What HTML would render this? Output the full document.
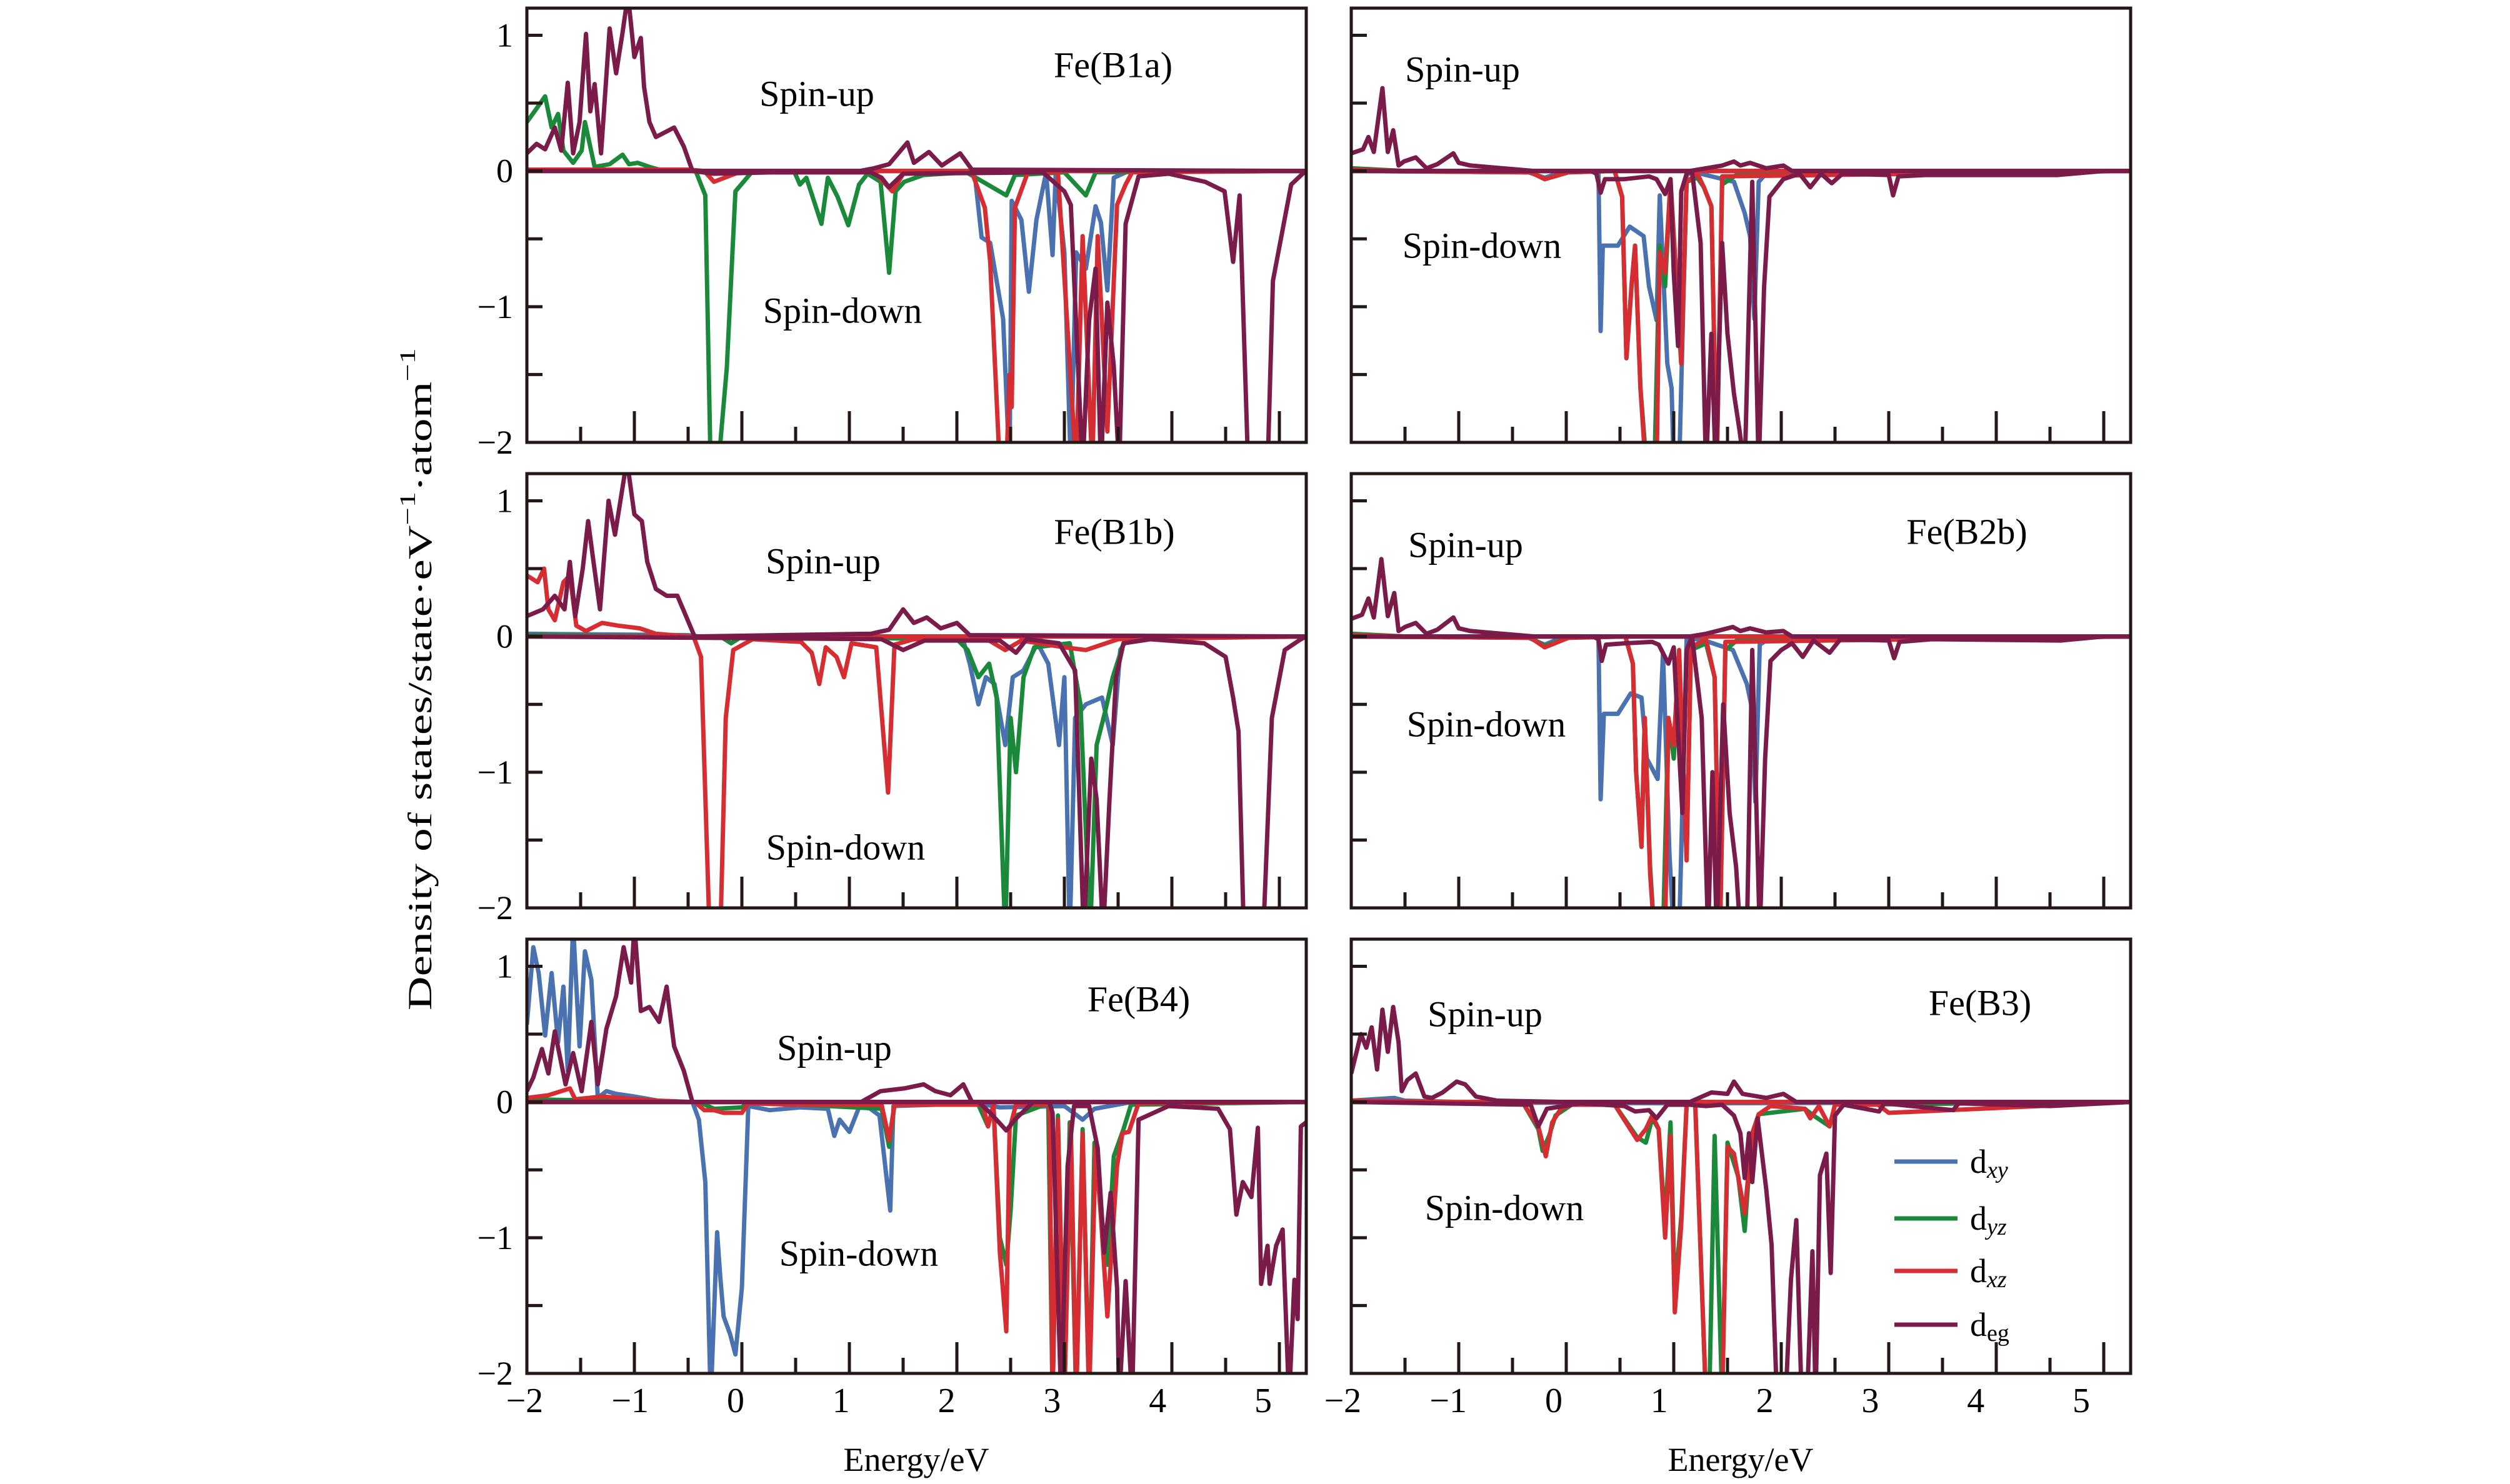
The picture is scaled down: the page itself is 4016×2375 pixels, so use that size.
<!DOCTYPE html>
<html><head><meta charset="utf-8"><style>
html,body{margin:0;padding:0;background:#fff;}
svg{display:block;font-family:"Liberation Serif",serif;}
</style></head><body>
<svg id="fig" width="4016" height="2375" viewBox="0 0 4016 2375" xmlns="http://www.w3.org/2000/svg">
<rect x="0" y="0" width="4016" height="2375" fill="#fff"/>
<g id="plots"></g>
<text transform="translate(672,1087) rotate(-90)" text-anchor="middle" dominant-baseline="central" font-size="54" textLength="1060" lengthAdjust="spacingAndGlyphs">Density of states/state·eV<tspan baseline-shift="super" font-size="36">−1</tspan>·atom<tspan baseline-shift="super" font-size="36">−1</tspan></text>
<text x="1466" y="2336" text-anchor="middle" dominant-baseline="central" font-size="54">Energy/eV</text>
<text x="2785" y="2336" text-anchor="middle" dominant-baseline="central" font-size="54">Energy/eV</text>
<g>
<line x1="3031" y1="1859" x2="3132" y2="1859" stroke="#4a72b0" stroke-width="7"/>
<text x="3152" y="1859" font-size="54" dominant-baseline="central">d<tspan font-style="italic" font-size="38" dy="14">xy</tspan></text>
<line x1="3031" y1="1950" x2="3132" y2="1950" stroke="#1a8a3a" stroke-width="7"/>
<text x="3152" y="1950" font-size="54" dominant-baseline="central">d<tspan font-style="italic" font-size="38" dy="14">yz</tspan></text>
<line x1="3031" y1="2034" x2="3132" y2="2034" stroke="#d62d33" stroke-width="7"/>
<text x="3152" y="2034" font-size="54" dominant-baseline="central">d<tspan font-style="italic" font-size="38" dy="14">xz</tspan></text>
<line x1="3031" y1="2120" x2="3132" y2="2120" stroke="#7b1b4a" stroke-width="7"/>
<text x="3152" y="2120" font-size="54" dominant-baseline="central">d<tspan font-size="38" dy="14">eg</tspan></text>
</g>
</svg>
<script>
const xTicks = [-2,-1.5,-1,-0.5,0,0.5,1,1.5,2,2.5,3,3.5,4,4.5,5];
const xTickLabels = ["−2","−1","0","1","2","3","4","5"];
const xLabelValues = [-2,-1,0,1,2,3,4,5];
const yTicks = [-2,-1.5,-1,-0.5,0,0.5,1];
const yTickLabels = ["−2","−1","0","1"];
const yLabelValues = [-2,-1,0,1];

// ---- Fe(B1a) ----
const b1a_dxy_up = [[-2,0.01],[-0.5,0.01],[-0.4,0],[5.25,0]];
const b1a_dxy_dn = [[-2,0],[2.1,0],[2.17,-0.05],[2.23,-0.49],[2.31,-0.53],[2.43,-1.09],[2.49,-2.2],[2.51,-0.22],[2.6,-0.36],[2.67,-0.89],[2.74,-0.36],[2.83,-0.01],[2.89,-0.62],[2.92,-0.01],[3.0,-0.6],[3.06,-2.2],[3.11,-0.6],[3.2,-0.72],[3.29,-0.26],[3.34,-0.38],[3.4,-0.88],[3.46,-0.05],[3.6,0],[5.25,0]];
const b1a_dyz_up = [[-2,0.36],[-1.91,0.46],[-1.83,0.55],[-1.77,0.32],[-1.71,0.42],[-1.66,0.15],[-1.57,0.06],[-1.49,0.15],[-1.46,0.36],[-1.37,0.03],[-1.23,0.05],[-1.11,0.12],[-1.05,0.05],[-0.97,0.06],[-0.86,0.03],[-0.77,0.01],[-0.43,0],[5.25,0]];
const b1a_dyz_dn = [[-2,0],[-0.43,0],[-0.34,-0.18],[-0.29,-2.2],[-0.2,-2.0],[-0.14,-1.45],[-0.06,-0.15],[0.09,-0.01],[0.49,-0.01],[0.54,-0.1],[0.6,-0.05],[0.74,-0.39],[0.8,-0.05],[0.89,-0.19],[0.99,-0.4],[1.09,-0.1],[1.17,-0.02],[1.29,-0.08],[1.37,-0.75],[1.43,-0.15],[1.51,-0.08],[1.69,-0.03],[2.09,-0.01],[2.2,-0.06],[2.46,-0.18],[2.54,-0.03],[3.0,-0.01],[3.2,-0.18],[3.29,-0.01],[5.25,0]];
const b1a_dxz_up = [[-2,0.01],[-0.5,0.01],[-0.35,0],[5.25,0]];
const b1a_dxz_dn = [[-2,0],[-0.35,0],[-0.26,-0.08],[-0.03,-0.01],[1.23,-0.01],[1.4,-0.15],[1.51,-0.01],[2.14,-0.01],[2.26,-0.27],[2.31,-0.67],[2.4,-2.2],[2.46,-2.2],[2.49,-1.5],[2.51,-1.74],[2.54,-0.27],[2.66,-0.01],[2.94,-0.01],[3.11,-2.2],[3.17,-0.48],[3.26,-2.2],[3.31,-0.48],[3.4,-1.92],[3.49,-0.25],[3.57,-0.1],[3.63,-0.01],[5.25,0]];
const b1a_deg_up = [[-2,0.13],[-1.91,0.2],[-1.83,0.16],[-1.74,0.32],[-1.68,0.15],[-1.62,0.65],[-1.57,0.13],[-1.51,0.36],[-1.45,1.01],[-1.41,0.44],[-1.37,0.64],[-1.31,0.13],[-1.23,1.05],[-1.17,0.72],[-1.11,1.02],[-1.06,1.3],[-1.0,0.84],[-0.94,0.98],[-0.91,0.62],[-0.86,0.36],[-0.8,0.25],[-0.63,0.32],[-0.54,0.18],[-0.46,0],[1.1,0],[1.23,0.02],[1.37,0.05],[1.54,0.21],[1.6,0.06],[1.74,0.14],[1.86,0.04],[2.03,0.13],[2.14,0.01],[5.25,0]];
const b1a_deg_dn = [[-2,0],[-0.46,0],[-0.26,-0.02],[0.3,-0.01],[1.2,-0.01],[1.3,-0.05],[1.37,-0.12],[1.5,-0.02],[2.8,-0.01],[3.0,-0.15],[3.06,-0.25],[3.17,-2.2],[3.23,-1.1],[3.29,-0.72],[3.34,-2.2],[3.4,-0.97],[3.46,-1.44],[3.51,-2.2],[3.57,-0.39],[3.69,-0.04],[3.97,-0.02],[4.31,-0.08],[4.49,-0.15],[4.57,-0.67],[4.63,-0.18],[4.71,-2.2],[4.89,-2.2],[4.94,-0.81],[5.11,-0.1],[5.23,-0.01],[5.25,0]];

// ---- Fe(B2a) (top right) ----
const b2a_dxy_up = [[-2,0.01],[-1.5,0],[5.25,0]];
const b2a_dxy_dn = [[-2,0],[-0.35,-0.01],[-0.2,-0.05],[-0.05,-0.01],[0.25,0],[0.3,-0.02],[0.32,-1.18],[0.34,-0.55],[0.48,-0.55],[0.59,-0.41],[0.72,-0.48],[0.77,-0.85],[0.84,-1.1],[0.87,-0.18],[0.94,-1.42],[0.98,-1.6],[1.0,-2.2],[1.05,-2.2],[1.12,-0.02],[1.25,-0.02],[1.56,-0.08],[1.66,-0.31],[1.71,-0.48],[1.75,-1.09],[1.79,-0.08],[1.87,-0.01],[5.25,0]];
const b2a_dyz_up = [[-2,0.02],[-1.5,0],[5.25,0]];
const b2a_dyz_dn = [[-2,0],[-0.33,-0.01],[-0.2,-0.06],[0.02,-0.01],[0.45,0],[0.52,-0.19],[0.56,-1.38],[0.61,-0.82],[0.64,-0.55],[0.69,-1.6],[0.72,-1.9],[0.75,-2.2],[0.82,-2.2],[0.87,-0.55],[0.92,-0.85],[0.97,-0.06],[1.07,-1.42],[1.12,-0.08],[1.22,-0.05],[1.28,-0.12],[1.35,-0.26],[1.4,-2.2],[1.45,-0.1],[1.6,-0.02],[5.25,0]];
const b2a_dxz_up = [[-2,0.01],[-1.5,0],[5.25,0]];
const b2a_dxz_dn = [[-2,0],[-0.33,-0.01],[-0.2,-0.06],[0.02,-0.01],[0.45,0],[0.52,-0.19],[0.56,-1.38],[0.61,-0.82],[0.64,-0.55],[0.69,-1.6],[0.74,-2.2],[0.84,-2.2],[0.87,-0.6],[0.92,-0.75],[0.97,-0.08],[1.07,-1.42],[1.12,-0.08],[1.22,-0.02],[1.28,-0.12],[1.35,-0.26],[1.4,-2.2],[1.45,-0.04],[5.25,0]];
const b2a_deg_up = [[-2,0.13],[-1.89,0.16],[-1.84,0.25],[-1.79,0.14],[-1.71,0.61],[-1.66,0.14],[-1.61,0.3],[-1.56,0.04],[-1.51,0.07],[-1.4,0.1],[-1.3,0.02],[-1.2,0.05],[-1.05,0.13],[-1.0,0.06],[-0.89,0.04],[-0.59,0.02],[-0.3,0],[1.15,0],[1.3,0.02],[1.45,0.04],[1.56,0.07],[1.62,0.04],[1.71,0.06],[1.86,0.02],[2.02,0.04],[2.1,0],[5.25,0]];
const b2a_deg_dn = [[-2,0],[0.23,0],[0.28,-0.02],[0.32,-0.16],[0.36,-0.06],[0.54,-0.06],[0.77,-0.04],[0.84,-0.06],[0.92,-0.17],[0.97,-0.06],[1.0,-0.75],[1.04,-1.29],[1.07,-0.15],[1.12,-0.02],[1.17,0],[1.25,-0.53],[1.3,-2.2],[1.35,-1.2],[1.39,-2.2],[1.45,-0.53],[1.5,-1.2],[1.56,-1.64],[1.61,-1.9],[1.66,-2.2],[1.73,-0.08],[1.79,-2.2],[1.84,-0.86],[1.89,-0.19],[2.02,-0.06],[2.17,-0.02],[2.27,-0.12],[2.37,-0.02],[2.47,-0.09],[2.57,-0.02],[3.0,-0.03],[3.04,-0.18],[3.09,-0.04],[3.34,-0.03],[4.57,-0.03],[5.0,0],[5.25,0]];

// ---- Fe(B1b) ----
const b1b_dxy_up = [[-2,0.02],[-0.5,0.01],[-0.4,0],[5.25,0]];
const b1b_dxy_dn = [[-2,0],[2.05,0],[2.12,-0.2],[2.2,-0.5],[2.27,-0.3],[2.35,-0.35],[2.45,-0.8],[2.52,-0.3],[2.62,-0.25],[2.75,-0.05],[2.85,-0.2],[2.95,-0.8],[3.0,-0.3],[3.05,-2.2],[3.1,-0.6],[3.2,-0.5],[3.35,-0.45],[3.45,-0.8],[3.52,-0.1],[3.6,0],[5.25,0]];
const b1b_dyz_up = [[-2,0.01],[-0.5,0],[5.25,0]];
const b1b_dyz_dn = [[-2,0],[-0.2,0],[-0.1,-0.05],[0,0],[2.0,-0.02],[2.1,-0.1],[2.2,-0.3],[2.3,-0.2],[2.37,-0.45],[2.45,-2.2],[2.5,-0.6],[2.55,-1.0],[2.62,-0.3],[2.72,-0.08],[3.05,-0.05],[3.15,-0.5],[3.24,-2.2],[3.3,-0.8],[3.38,-0.55],[3.45,-0.3],[3.55,-0.05],[3.65,0],[5.25,0]];
const b1b_dxz_up = [[-2,0.45],[-1.9,0.4],[-1.84,0.5],[-1.8,0.2],[-1.74,0.12],[-1.66,0.4],[-1.6,0.45],[-1.54,0.08],[-1.45,0.04],[-1.3,0.1],[-1.15,0.08],[-0.95,0.06],[-0.8,0.02],[-0.5,0],[5.25,0]];
const b1b_dxz_dn = [[-2,0],[-0.45,0],[-0.38,-0.15],[-0.3,-2.2],[-0.2,-2.2],[-0.15,-0.6],[-0.08,-0.1],[0.1,-0.02],[0.55,-0.04],[0.65,-0.12],[0.72,-0.35],[0.78,-0.08],[0.88,-0.15],[0.95,-0.3],[1.02,-0.05],[1.25,-0.08],[1.36,-1.15],[1.42,-0.06],[1.6,-0.02],[2.3,-0.03],[2.45,-0.1],[2.6,-0.03],[3.0,-0.08],[3.2,-0.1],[3.5,-0.02],[5.25,0]];
const b1b_deg_up = [[-2,0.15],[-1.85,0.2],[-1.74,0.3],[-1.65,0.2],[-1.6,0.55],[-1.55,0.15],[-1.48,0.5],[-1.43,0.85],[-1.38,0.55],[-1.32,0.2],[-1.24,1.0],[-1.18,0.75],[-1.12,1.05],[-1.07,1.3],[-1.0,0.9],[-0.93,0.85],[-0.88,0.55],[-0.8,0.35],[-0.7,0.3],[-0.6,0.3],[-0.52,0.15],[-0.44,0],[1.2,0.02],[1.37,0.05],[1.5,0.2],[1.6,0.1],[1.72,0.14],[1.85,0.06],[2.0,0.1],[2.12,0.01],[5.25,0]];
const b1b_deg_dn = [[-2,0],[1.3,-0.02],[1.5,-0.1],[1.7,-0.03],[2.4,-0.03],[2.55,-0.12],[2.65,-0.02],[2.95,-0.05],[3.1,-0.25],[3.18,-2.2],[3.25,-0.9],[3.3,-1.2],[3.36,-2.2],[3.42,-1.2],[3.48,-0.3],[3.55,-0.05],[3.8,-0.02],[4.3,-0.05],[4.5,-0.15],[4.57,-0.45],[4.62,-0.7],[4.67,-2.2],[4.85,-2.2],[4.93,-0.6],[5.05,-0.1],[5.2,-0.02],[5.25,0]];

// ---- Fe(B2b) ----
const b2b_dxy_up = [[-2,0.01],[-1.5,0],[5.25,0]];
const b2b_dxy_dn = [[-2,0],[-0.35,-0.01],[-0.2,-0.06],[-0.05,-0.01],[0.25,0],[0.3,-0.02],[0.32,-1.2],[0.35,-0.57],[0.48,-0.57],[0.6,-0.42],[0.7,-0.45],[0.75,-0.9],[0.85,-1.05],[0.9,-0.12],[0.96,-1.6],[1.0,-2.2],[1.05,-2.2],[1.12,-0.02],[1.25,-0.02],[1.55,-0.1],[1.68,-0.35],[1.72,-0.5],[1.76,-1.22],[1.8,-0.06],[1.9,-0.01],[5.25,0]];
const b2b_dyz_up = [[-2,0.02],[-1.5,0],[5.25,0]];
const b2b_dyz_dn = [[-2,0],[-0.33,-0.01],[-0.2,-0.07],[0.02,-0.01],[0.55,0],[0.62,-0.2],[0.65,-1.0],[0.7,-1.55],[0.73,-0.6],[0.78,-1.7],[0.82,-2.2],[0.9,-2.2],[0.95,-0.6],[1.0,-0.9],[1.05,-0.2],[1.12,-1.6],[1.16,-0.1],[1.3,-0.05],[1.38,-0.3],[1.43,-2.2],[1.48,-0.1],[1.6,-0.02],[5.25,0]];
const b2b_dxz_up = [[-2,0.01],[-1.5,0],[5.25,0]];
const b2b_dxz_dn = [[-2,0],[-0.33,-0.01],[-0.2,-0.08],[0.02,-0.01],[0.55,0],[0.62,-0.2],[0.65,-1.0],[0.7,-1.55],[0.73,-0.6],[0.78,-1.75],[0.82,-2.2],[0.92,-2.2],[0.95,-0.6],[1.0,-0.8],[1.05,-0.1],[1.12,-1.65],[1.16,-0.08],[1.3,-0.02],[1.38,-0.3],[1.43,-2.2],[1.48,-0.04],[5.25,0]];
const b2b_deg_up = [[-2,0.13],[-1.9,0.16],[-1.84,0.28],[-1.79,0.14],[-1.72,0.57],[-1.66,0.15],[-1.6,0.32],[-1.56,0.04],[-1.5,0.07],[-1.4,0.1],[-1.3,0.02],[-1.2,0.05],[-1.05,0.14],[-1.0,0.06],[-0.89,0.04],[-0.59,0.02],[-0.3,0],[1.15,0],[1.3,0.02],[1.45,0.05],[1.55,0.07],[1.62,0.04],[1.71,0.06],[1.86,0.03],[2.02,0.04],[2.1,0],[5.25,0]];
const b2b_deg_dn = [[-2,0],[0.25,0],[0.3,-0.02],[0.33,-0.18],[0.37,-0.06],[0.55,-0.05],[0.8,-0.04],[0.86,-0.06],[0.95,-0.2],[1.0,-0.08],[1.04,-0.7],[1.08,-1.3],[1.12,-0.1],[1.17,0],[1.26,-0.6],[1.32,-2.2],[1.36,-1.0],[1.4,-2.2],[1.46,-0.5],[1.52,-1.3],[1.58,-1.7],[1.62,-2.2],[1.68,-2.2],[1.73,-0.1],[1.8,-2.2],[1.85,-0.9],[1.9,-0.18],[2.0,-0.1],[2.1,-0.05],[2.2,-0.15],[2.3,-0.03],[2.45,-0.12],[2.55,-0.02],[3.0,-0.03],[3.05,-0.16],[3.1,-0.04],[3.4,-0.02],[4.6,-0.03],[5.0,0],[5.25,0]];

// ---- Fe(B4) ----
const b4_dxy_up = [[-2,0.57],[-1.94,1.14],[-1.89,0.95],[-1.83,0.49],[-1.77,0.95],[-1.71,0.44],[-1.66,0.85],[-1.62,0.23],[-1.57,1.3],[-1.51,0.41],[-1.46,1.11],[-1.4,0.9],[-1.34,0.03],[-1.26,0.08],[-1.17,0.06],[-1.0,0.04],[-0.78,0.01],[-0.46,0],[5.25,0]];
const b4_dxy_dn = [[-2,0],[-0.46,0],[-0.4,-0.13],[-0.34,-0.59],[-0.29,-2.2],[-0.23,-0.96],[-0.2,-1.3],[-0.17,-1.58],[-0.11,-1.71],[-0.06,-1.86],[0,-1.37],[0.06,-0.03],[0.26,-0.06],[0.54,-0.04],[0.8,-0.05],[0.86,-0.25],[0.91,-0.13],[1.0,-0.22],[1.11,0],[1.28,-0.1],[1.38,-0.8],[1.41,-0.03],[2.2,-0.01],[2.4,-0.04],[3.0,-0.03],[3.17,-0.13],[3.28,-0.05],[3.63,0],[5.25,0]];
const b4_dyz_up = [[-2,0.02],[-0.5,0],[5.25,0]];
const b4_dyz_dn = [[-2,0],[-0.4,0],[-0.26,-0.05],[0,-0.04],[0.06,0],[1.3,-0.05],[1.37,-0.33],[1.42,-0.02],[2.2,-0.02],[2.29,-0.18],[2.34,-0.02],[2.4,-1.0],[2.46,-1.2],[2.5,-0.8],[2.55,-0.1],[2.85,-0.01],[2.89,-2.2],[2.94,-0.1],[3.0,-2.2],[3.05,-0.15],[3.11,-2.2],[3.17,-0.2],[3.23,-2.2],[3.28,-0.3],[3.34,-0.8],[3.4,-1.2],[3.46,-0.4],[3.55,-0.2],[3.62,-0.02],[5.25,0]];
const b4_dxz_up = [[-2,0.03],[-1.8,0.05],[-1.6,0.1],[-1.55,0.02],[-1.3,0.04],[-0.8,0.01],[-0.5,0],[5.25,0]];
const b4_dxz_dn = [[-2,0],[-0.44,0],[-0.35,-0.06],[-0.26,-0.06],[-0.17,-0.08],[0,-0.08],[0.06,-0.01],[0.5,-0.02],[1.3,-0.02],[1.37,-0.28],[1.42,-0.02],[2.24,-0.02],[2.29,-0.18],[2.34,-0.02],[2.4,-1.11],[2.46,-1.69],[2.49,-0.2],[2.55,-0.02],[2.86,-0.02],[2.89,-2.2],[2.94,-0.13],[3.0,-2.2],[3.06,-0.16],[3.11,-2.2],[3.17,-0.23],[3.23,-2.2],[3.29,-0.33],[3.34,-0.85],[3.4,-1.58],[3.49,-0.47],[3.54,-0.23],[3.6,-0.22],[3.69,-0.01],[5.25,0]];
const b4_deg_up = [[-2,0.08],[-1.94,0.18],[-1.86,0.39],[-1.8,0.21],[-1.74,0.52],[-1.64,0.13],[-1.57,0.36],[-1.49,0.08],[-1.4,0.59],[-1.34,0.13],[-1.26,0.54],[-1.17,0.78],[-1.1,1.14],[-1.03,0.88],[-1.0,1.3],[-0.94,0.67],[-0.86,0.7],[-0.77,0.59],[-0.7,0.85],[-0.63,0.41],[-0.54,0.23],[-0.46,0],[1.11,0],[1.29,0.08],[1.51,0.1],[1.69,0.13],[1.8,0.08],[1.94,0.05],[2.06,0.13],[2.14,0],[5.25,0]];
const b4_deg_dn = [[-2,0],[2.2,0],[2.31,-0.08],[2.46,-0.21],[2.54,-0.13],[2.71,0],[2.86,0],[2.89,-0.08],[2.91,-0.6],[2.97,-2.2],[3.03,-0.47],[3.09,-0.03],[3.23,-0.03],[3.31,-0.34],[3.37,-1.11],[3.43,-0.67],[3.49,-1.37],[3.51,-2.2],[3.57,-1.32],[3.63,-2.2],[3.69,-0.13],[3.97,-0.03],[4.43,-0.05],[4.54,-0.2],[4.6,-0.83],[4.66,-0.59],[4.74,-0.7],[4.8,-0.19],[4.83,-1.34],[4.89,-1.06],[4.91,-1.34],[4.97,-1.06],[5.03,-0.94],[5.09,-2.2],[5.14,-1.31],[5.17,-1.6],[5.2,-0.18],[5.25,-0.15]];

// ---- Fe(B3) ----
const b3_dxy_up = [[-2,0.01],[-1.6,0.03],[-1.5,0.01],[-1,0],[5.25,0]];
const b3_dxy_dn = [[-2,0],[1.2,-0.01],[5.25,0]];
const b3_dyz_up = [[-2,0.01],[-1,0],[5.25,0]];
const b3_dyz_dn = [[-2,0],[-0.4,-0.01],[-0.26,-0.2],[-0.22,-0.36],[-0.16,-0.25],[-0.1,-0.1],[0.05,-0.02],[0.45,-0.02],[0.66,-0.26],[0.74,-0.3],[0.8,-0.12],[0.86,-0.2],[0.92,-0.9],[0.97,-0.15],[1.01,-1.4],[1.07,-0.85],[1.12,-0.02],[1.2,-0.02],[1.3,-2.2],[1.33,-2.2],[1.38,-0.25],[1.45,-2.2],[1.5,-0.3],[1.6,-0.55],[1.66,-0.95],[1.71,-0.4],[1.79,-0.09],[2.22,-0.05],[2.3,-0.1],[2.45,-0.18],[2.5,-0.02],[5.25,0]];
const b3_dxz_up = [[-2,0.01],[-1,0],[5.25,0]];
const b3_dxz_dn = [[-2,0],[-0.4,-0.01],[-0.26,-0.18],[-0.19,-0.4],[-0.13,-0.15],[-0.05,-0.05],[0.05,-0.02],[0.45,-0.02],[0.66,-0.28],[0.74,-0.2],[0.8,-0.1],[0.86,-0.2],[0.92,-1.0],[0.97,-0.25],[1.01,-1.55],[1.07,-0.9],[1.12,-0.02],[1.2,-0.02],[1.3,-2.2],[1.38,-2.2],[1.45,-2.2],[1.5,-0.33],[1.56,-0.38],[1.66,-0.82],[1.73,-0.23],[1.79,-0.09],[1.9,-0.03],[2.22,-0.05],[2.27,-0.12],[2.35,-0.03],[2.45,-0.18],[2.5,-0.02],[2.9,-0.02],[3.0,-0.08],[5.25,0]];
const b3_deg_up = [[-2,0.21],[-1.91,0.5],[-1.86,0.4],[-1.81,0.55],[-1.76,0.24],[-1.71,0.68],[-1.66,0.37],[-1.61,0.7],[-1.56,0.44],[-1.53,0.08],[-1.48,0.16],[-1.4,0.21],[-1.32,0.04],[-1.25,0.03],[-1.15,0.07],[-1.02,0.15],[-0.94,0.13],[-0.84,0.04],[-0.64,0.01],[0,0],[1.15,0],[1.35,0.07],[1.5,0.06],[1.56,0.15],[1.64,0.06],[1.86,0.03],[2.02,0.06],[2.14,0],[5.25,0]];
const b3_deg_dn = [[-2,0],[-0.33,-0.02],[-0.26,-0.18],[-0.18,-0.05],[0.13,-0.01],[0.54,-0.03],[0.64,-0.07],[0.77,-0.06],[0.84,-0.12],[0.94,-0.02],[1.15,-0.02],[1.3,-0.03],[1.45,-0.02],[1.56,-0.1],[1.62,-0.23],[1.66,-0.56],[1.7,-0.23],[1.73,-0.59],[1.78,-0.12],[1.86,-0.64],[1.91,-1.05],[1.96,-2.2],[2.04,-2.2],[2.09,-1.31],[2.14,-0.87],[2.19,-2.2],[2.24,-2.2],[2.29,-1.1],[2.32,-2.2],[2.36,-0.54],[2.42,-0.38],[2.46,-1.26],[2.5,-0.1],[2.58,-0.02],[2.91,-0.07],[2.96,-0.01],[3.6,-0.06],[3.65,-0.01],[4.5,-0.03],[5.25,0]];

const XMIN = -2, XMAX = 5.25, YMIN = -2, YMAX = 1.2;
const COLORS = {dxy:"#4a72b0", dyz:"#1a8a3a", dxz:"#d62d33", deg:"#7b1b4a"};

const panels = [
 {id:"b1a", left:843, top:13, labels:true, lo:10, title:"Fe(B1a)", tp:[1781,104], up:[1307,150], dn:[1348,497],
  s:{dxy:[b1a_dxy_up,b1a_dxy_dn],dyz:[b1a_dyz_up,b1a_dyz_dn],dxz:[b1a_dxz_up,b1a_dxz_dn],deg:[b1a_deg_up,b1a_deg_dn]}},
 {id:"b2a", left:2162, top:13, labels:false, lo:20, title:"", tp:[0,0], up:[2340,111], dn:[2371,393],
  s:{dxy:[b2a_dxy_up,b2a_dxy_dn],dyz:[b2a_dyz_up,b2a_dyz_dn],dxz:[b2a_dxz_up,b2a_dxz_dn],deg:[b2a_deg_up,b2a_deg_dn]}},
 {id:"b1b", left:843, top:758, labels:true, lo:10, title:"Fe(B1b)", tp:[1783,851], up:[1317,898], dn:[1353,1356],
  s:{dxy:[b1b_dxy_up,b1b_dxy_dn],dyz:[b1b_dyz_up,b1b_dyz_dn],dxz:[b1b_dxz_up,b1b_dxz_dn],deg:[b1b_deg_up,b1b_deg_dn]}},
 {id:"b2b", left:2162, top:758, labels:false, lo:20, title:"Fe(B2b)", tp:[3147,851], up:[2345,872], dn:[2378,1159],
  s:{dxy:[b2b_dxy_up,b2b_dxy_dn],dyz:[b2b_dyz_up,b2b_dyz_dn],dxz:[b2b_dxz_up,b2b_dxz_dn],deg:[b2b_deg_up,b2b_deg_dn]}},
 {id:"b4", left:843, top:1503, labels:true, xl:true, lo:10, title:"Fe(B4)", tp:[1822,1599], up:[1335,1677], dn:[1374,2006],
  s:{dxy:[b4_dxy_up,b4_dxy_dn],dyz:[b4_dyz_up,b4_dyz_dn],dxz:[b4_dxz_up,b4_dxz_dn],deg:[b4_deg_up,b4_deg_dn]}},
 {id:"b3", left:2162, top:1503, labels:false, xl:true, lo:20, title:"Fe(B3)", tp:[3168,1605], up:[2376,1623], dn:[2407,1933],
  s:{dxy:[b3_dxy_up,b3_dxy_dn],dyz:[b3_dyz_up,b3_dyz_dn],dxz:[b3_dxz_up,b3_dxz_dn],deg:[b3_deg_up,b3_deg_dn]}}
];
const PW = 1247, PH = 695;
const NS = "http://www.w3.org/2000/svg";
const root = document.getElementById('plots');
function mk(tag, attrs, parent){ const e=document.createElementNS(NS,tag); for(const k in attrs) e.setAttribute(k,attrs[k]); (parent||root).appendChild(e); return e; }
function xs(p,E){ return p.left + (E-XMIN)/(XMAX-XMIN)*PW; }
function ys(p,D){ return p.top + (YMAX-D)/(YMAX-YMIN)*PH; }

panels.forEach(p=>{
  const g = mk('g',{});
  
  
  const cp = mk('clipPath',{id:'clip-'+p.id}, g);
  mk('rect',{x:p.left,y:p.top,width:PW,height:PH}, cp);
  const zl = mk('line',{x1:p.left,x2:p.left+PW,y1:ys(p,0),y2:ys(p,0),stroke:"#231815","stroke-width":7}, g);
  
  
  const sg = mk('g',{"clip-path":"url(#clip-"+p.id+")"}, g);
  ["dxy","dyz","dxz","deg"].forEach(k=>{
    p.s[k].forEach((arr,i)=>{
      const d = arr.map((pt,j)=>(j?'L':'M')+xs(p,pt[0]).toFixed(1)+','+ys(p,pt[1]).toFixed(1)).join('');
      const path = mk('path',{d:d,fill:"none",stroke:COLORS[k],"stroke-width":7,"stroke-linejoin":"round"}, sg);
      
      
    });
  });
  xTicks.forEach(t=>{
    const L = Number.isInteger(t) ? 50 : 25;
    const tk = mk('line',{x1:xs(p,t),x2:xs(p,t),y1:p.top+PH,y2:p.top+PH-L,stroke:"#231815","stroke-width":5}, g);
    
    
  });
  yTicks.forEach(t=>{
    const tk = mk('line',{x1:p.left,x2:p.left+25,y1:ys(p,t),y2:ys(p,t),stroke:"#231815","stroke-width":5}, g);
    
    
  });
  const fr = mk('rect',{x:p.left,y:p.top,width:PW,height:PH,fill:"none",stroke:"#231815","stroke-width":5}, g);
  
  
  if(p.labels){
    yLabelValues.forEach((v,i)=>{
      const t = mk('text',{x:p.left-22,y:ys(p,v),"text-anchor":"end","dominant-baseline":"central","font-size":54}, g);
      t.textContent = yTickLabels[i];
      
      
    });
  }
  if(p.xl){
    xLabelValues.forEach((v,i)=>{
      const t = mk('text',{x:xs(p,v)-p.lo-3.2*v,y:2242,"text-anchor":"middle","dominant-baseline":"central","font-size":56}, g);
      t.textContent = xTickLabels[i];
      
      
    });
  }
  if(p.title){
    const t = mk('text',{x:p.tp[0],y:p.tp[1],"text-anchor":"middle","dominant-baseline":"central","font-size":58}, g);
    t.textContent = p.title;
    
    
  }
  const u = mk('text',{x:p.up[0],y:p.up[1],"text-anchor":"middle","dominant-baseline":"central","font-size":58}, g);
  u.textContent = "Spin-up";
  
  
  const dn = mk('text',{x:p.dn[0],y:p.dn[1],"text-anchor":"middle","dominant-baseline":"central","font-size":58}, g);
  dn.textContent = "Spin-down";
  
  
});
</script>
</body></html>
